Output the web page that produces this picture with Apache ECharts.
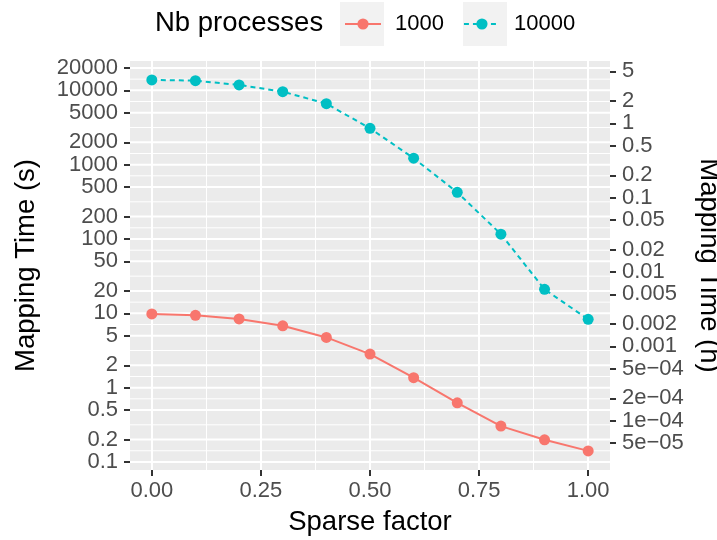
<!DOCTYPE html>
<html>
<head>
<meta charset="utf-8">
<script src="https://cdn.jsdelivr.net/npm/echarts@6/dist/echarts.min.js"></script>
<style>
  html, body { margin: 0; padding: 0; background: #fff; }
  #chart { width: 717px; height: 540px; }
</style>
</head>
<body>
<div id="chart"></div>
<script>
// data
var sparse = [0, 0.1, 0.2, 0.3, 0.4, 0.5, 0.6, 0.7, 0.8, 0.9, 1.0];
var time1000 = [9.8, 9.4, 8.4, 6.8, 4.74, 2.83, 1.36, 0.625, 0.304, 0.199, 0.141];
var time10000 = [13800, 13500, 11800, 9600, 6620, 3080, 1220, 425, 116, 21, 8.3];

// axis ticks
var xTicks = [0, 0.25, 0.5, 0.75, 1];
var xTickLabels = ['0.00', '0.25', '0.50', '0.75', '1.00'];
var xMinor = [0.125, 0.375, 0.625, 0.875];
var secTicks = [0.1, 0.2, 0.5, 1, 2, 5, 10, 20, 50, 100, 200, 500, 1000, 2000, 5000, 10000, 20000];
var secLabels = ['0.1', '0.2', '0.5', '1', '2', '5', '10', '20', '50', '100', '200', '500', '1000', '2000', '5000', '10000', '20000'];
var secMinor = [0.1414, 0.3162, 0.7071, 1.414, 3.162, 7.071, 14.14, 31.62, 70.71, 141.4, 316.2, 707.1, 1414, 3162, 7071, 14142];
var hourTicks = [5, 2, 1, 0.5, 0.2, 0.1, 0.05, 0.02, 0.01, 0.005, 0.002, 0.001, 0.0005, 0.0002, 0.0001, 0.00005];
var hourLabels = ['5', '2', '1', '0.5', '0.2', '0.1', '0.05', '0.02', '0.01', '0.005', '0.002', '0.001', '5e\u221204', '2e\u221204', '1e\u221204', '5e\u221205'];

var yMin = 0.078, yMax = 24800;
var FONT = 'Liberation Sans, Arial, Helvetica, sans-serif';
var red = '#F8766D', cyan = '#00BFC4';

function pick(vals, labels) {
    return function (v) {
        for (let i = 0; i < vals.length; i++) {
            if (Math.abs(vals[i] - v) <= Math.abs(vals[i]) * 1e-6 + 1e-12) return labels[i];
        }
        return '';
    };
}

// horizontal grid lines, [x, value, lineWidth]
var hGrid = [];
secMinor.forEach(function (v) { hGrid.push([0, v, 1]); });
secTicks.forEach(function (v) { hGrid.push([0, v, 2]); });

function renderGridLine(params, api) {
    var cs = params.coordSys;
    var y = api.coord([0, api.value(1)])[1];
    return {
        type: 'line',
        shape: { x1: cs.x, y1: y, x2: cs.x + cs.width, y2: y },
        style: { stroke: '#fff', lineWidth: api.value(2) },
        silent: true
    };
}

var tickStyle = { show: true, length: 6, lineStyle: { color: '#333333', width: 2 } };
var labelStyle = { color: '#4D4D4D', fontSize: 22, fontFamily: FONT };
var nameStyle = { color: '#000', fontSize: 27.5, fontFamily: FONT };

var chart = echarts.init(document.getElementById('chart'));
chart.setOption({
    animation: false,
    title: {
        text: 'Nb processes',
        left: 155, top: 9, padding: 0,
        textStyle: { color: '#000', fontSize: 27.5, fontWeight: 'normal', fontFamily: FONT }
    },
    legend: {
        data: ['1000', '10000'],
        left: 344, top: 13, padding: 0,
        itemWidth: 36, itemHeight: 14, itemGap: 19,
        lineStyle: { width: 2 },
        textStyle: { color: '#000', fontSize: 22, fontFamily: FONT, padding: [0, 0, 0, 9] }
    },
    graphic: [
        { type: 'rect', left: 340, top: 2, z: -1, shape: { width: 44, height: 44 }, style: { fill: '#F2F2F2' } },
        { type: 'rect', left: 463, top: 2, z: -1, shape: { width: 44, height: 44 }, style: { fill: '#F2F2F2' } }
    ],
    grid: {
        left: 130, right: 107, top: 61, bottom: 70,
        outerBoundsMode: 'none', containLabel: false,
        show: true, backgroundColor: '#EBEBEB', borderWidth: 0
    },
    xAxis: [
        {
            type: 'value', min: -0.05, max: 1.05,
            name: 'Sparse factor', nameLocation: 'middle', nameGap: 38, nameTextStyle: nameStyle,
            axisLine: { show: false, onZero: false },
            axisTick: Object.assign({ customValues: xTicks }, tickStyle),
            axisLabel: Object.assign({ customValues: xTicks, margin: 10, formatter: pick(xTicks, xTickLabels) }, labelStyle),
            splitLine: { show: true, lineStyle: { color: '#fff', width: 2 } }
        },
        {
            type: 'value', min: -0.05, max: 1.05, position: 'bottom',
            axisLine: { show: false, onZero: false },
            axisTick: { show: false, customValues: xMinor },
            axisLabel: { show: false, customValues: xMinor },
            splitLine: { show: true, lineStyle: { color: '#fff', width: 1 } }
        }
    ],
    yAxis: [
        {
            type: 'log', min: yMin, max: yMax, position: 'left',
            name: 'Mapping Time (s)', nameLocation: 'middle', nameGap: 90, nameTextStyle: nameStyle,
            axisLine: { show: false, onZero: false },
            axisTick: Object.assign({ customValues: secTicks }, tickStyle),
            axisLabel: Object.assign({ customValues: secTicks, margin: 12, formatter: pick(secTicks, secLabels) }, labelStyle),
            splitLine: { show: false }
        },
        {
            type: 'log', min: yMin / 3600, max: yMax / 3600, position: 'right',
            name: 'Mapping Time (h)', nameLocation: 'middle', nameGap: 72, nameRotate: -90, nameTextStyle: nameStyle,
            axisLine: { show: false, onZero: false },
            axisTick: Object.assign({ customValues: hourTicks }, tickStyle),
            axisLabel: Object.assign({ customValues: hourTicks, margin: 12, formatter: pick(hourTicks, hourLabels) }, labelStyle),
            splitLine: { show: false }
        }
    ],
    series: [
        {
            name: 'grid', type: 'custom', z: 1, silent: true,
            xAxisIndex: 0, yAxisIndex: 0,
            encode: { x: 0, y: 1 },
            renderItem: renderGridLine,
            data: hGrid
        },
        {
            name: '1000', type: 'line', z: 3,
            data: sparse.map(function (x, i) { return [x, time1000[i]]; }),
            symbol: 'circle', symbolSize: 11,
            itemStyle: { color: red },
            lineStyle: { color: red, width: 2 }
        },
        {
            name: '10000', type: 'line', z: 3,
            data: sparse.map(function (x, i) { return [x, time10000[i]]; }),
            symbol: 'circle', symbolSize: 11,
            itemStyle: { color: cyan },
            lineStyle: { color: cyan, width: 2, type: [5, 4] }
        }
    ]
});
</script>
</body>
</html>
